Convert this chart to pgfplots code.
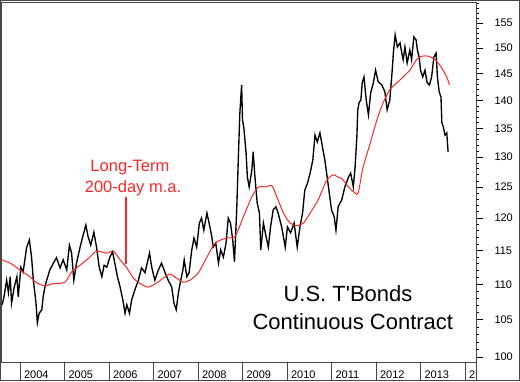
\documentclass[border=0pt]{standalone}
\usepackage{pgfplots}
\pgfplotsset{compat=1.18}
\usepackage{fontspec}
\setmainfont{Liberation Sans}
\definecolor{maRed}{RGB}{255,40,40}
\definecolor{frameGray}{RGB}{70,70,70}
\begin{document}
\begin{tikzpicture}[x=1pt,y=1pt]
\useasboundingbox (0,0) rectangle (520,381);
\begin{axis}[
  at={(1pt,19pt)}, anchor=south west,
  width=475pt, height=360pt, scale only axis,
  xmin=2003.573, xmax=2014.247,
  ymode=log, ymin=99.35, ymax=159.34,
  axis line style={frameGray, line width=0.8pt},
  xtick pos=bottom, ytick pos=right,
  tick align=outside,
  major tick length=7pt, minor tick length=3pt,
  tick style={black, line width=0.7pt},
  xtick style={/pgfplots/major tick length=19pt, frameGray, line width=0.8pt},
  xtick={2004,2005,2006,2007,2008,2009,2010,2011,2012,2013,2014},
  xticklabels={2004,2005,2006,2007,2008,2009,2010,2011,2012,2013,2},
  xticklabel style={anchor=west, xshift=0.5pt, yshift=-5.5pt},
  ytick={100,105,110,115,120,125,130,135,140,145,150,155},
  yticklabels={100,105,110,115,120,125,130,135,140,145,150,155},
  minor ytick={101,102,103,104,106,107,108,109,111,112,113,114,116,117,118,119,121,122,123,124,126,127,128,129,131,132,133,134,136,137,138,139,141,142,143,144,146,147,148,149,151,152,153,154,156,157,158,159},
  yticklabel style={anchor=west},
  yticklabel shift=8pt,
  ticklabel style={font=\fontsize{11}{13}\selectfont},
  /pgf/number format/assume math mode=true,
  clip=true,
]
% price series
\addplot[black, line width=1.35pt] coordinates {
(2003.60,107.1)(2003.64,108.2)(2003.70,110.6)(2003.74,108.8)(2003.78,111.1)(2003.81,107.3)(2003.87,109.6)(2003.93,111.1)(2003.96,108.2)
(2004.02,112.5)(2004.07,111.8)(2004.15,115.5)(2004.21,116.6)(2004.26,114.0)(2004.30,110.6)(2004.36,107.3)(2004.39,104.6)(2004.43,105.9)(2004.49,106.4)
(2004.52,108.2)(2004.56,109.6)(2004.60,110.6)(2004.67,112.1)(2004.75,113.1)(2004.82,113.9)(2004.90,112.4)(2004.97,113.6)
(2005.05,112.1)(2005.11,115.8)(2005.16,114.6)(2005.21,110.6)(2005.27,113.1)(2005.35,115.5)(2005.41,117.1)(2005.48,118.9)(2005.53,117.1)
(2005.59,115.8)(2005.66,117.8)(2005.72,115.5)(2005.78,112.5)(2005.84,111.1)(2005.89,112.8)(2005.95,112.5)
(2006.02,114.0)(2006.08,114.8)(2006.13,113.1)(2006.19,111.1)(2006.25,109.6)(2006.31,107.8)(2006.36,105.9)(2006.40,107.1)(2006.46,105.9)
(2006.51,107.8)(2006.58,109.2)(2006.66,110.6)(2006.73,112.4)(2006.81,111.7)(2006.91,114.6)(2006.96,112.5)
(2007.03,110.6)(2007.11,112.1)(2007.18,113.1)(2007.26,111.7)(2007.33,110.6)(2007.41,109.6)(2007.46,107.3)(2007.51,106.4)(2007.56,108.8)
(2007.60,110.2)(2007.66,112.1)(2007.69,113.6)(2007.75,111.1)(2007.80,111.7)(2007.86,115.1)(2007.91,116.9)(2007.97,115.5)
(2008.03,119.2)(2008.08,120.0)(2008.13,118.1)(2008.20,120.8)(2008.25,119.2)(2008.31,117.1)(2008.34,115.5)(2008.40,116.1)(2008.46,113.1)
(2008.51,115.1)(2008.57,114.0)(2008.63,116.1)(2008.68,120.0)(2008.73,119.2)(2008.78,116.6)(2008.82,113.3)(2008.87,121.3)(2008.91,130.7)
(2008.94,137.7)(2008.98,142.9)(2009.00,136.5)(2009.03,135.1)(2009.08,130.7)(2009.11,126.6)(2009.15,125.0)(2009.21,127.8)(2009.24,130.9)
(2009.28,126.6)(2009.33,122.4)(2009.38,120.8)(2009.41,115.1)(2009.47,119.2)(2009.53,117.1)(2009.58,115.5)(2009.63,118.6)(2009.69,121.3)
(2009.75,121.8)(2009.80,120.8)(2009.88,118.6)(2009.96,115.5)(2010.01,118.6)(2010.08,117.7)(2010.16,119.2)(2010.23,115.5)(2010.29,118.6)
(2010.35,120.8)(2010.40,124.5)(2010.46,125.6)(2010.52,127.3)(2010.58,129.5)(2010.63,133.8)(2010.68,132.6)(2010.74,134.2)(2010.80,131.6)
(2010.85,129.5)(2010.89,127.3)(2010.95,124.0)(2011.00,121.3)(2011.06,120.2)(2011.10,118.1)(2011.15,121.8)(2011.23,122.9)(2011.30,125.0)
(2011.38,126.6)(2011.43,127.3)(2011.49,125.0)(2011.53,128.3)(2011.57,133.5)(2011.59,138.3)(2011.62,139.6)(2011.66,140.1)(2011.69,143.3)
(2011.73,144.4)(2011.78,140.1)(2011.83,137.4)(2011.88,141.4)(2011.94,143.3)(2011.99,145.7)(2012.05,143.5)(2012.13,142.9)(2012.20,141.6)
(2012.25,138.3)(2012.31,140.1)(2012.36,145.2)(2012.39,149.0)(2012.43,152.6)(2012.48,150.2)(2012.54,151.0)(2012.58,149.0)(2012.61,147.7)
(2012.65,150.2)(2012.70,147.1)(2012.76,149.6)(2012.80,147.7)(2012.85,152.2)(2012.90,151.6)(2012.93,149.6)(2012.97,148.2)(2013.00,145.7)
(2013.05,144.4)(2013.10,145.7)(2013.15,143.3)(2013.20,142.9)(2013.25,144.4)(2013.30,148.2)(2013.35,149.0)(2013.38,144.4)(2013.42,141.6)
(2013.46,140.7)(2013.48,136.0)(2013.51,135.3)(2013.55,133.8)(2013.59,134.2)(2013.62,130.9)
};
% 200-day moving average
\addplot[maRed, line width=1pt, smooth, tension=0.4] coordinates {
(2003.59,113.6)(2003.78,113.1)(2004.00,112.1)(2004.22,111.1)(2004.38,110.2)(2004.56,109.8)(2004.75,110.1)(2004.97,110.2)
(2005.05,110.6)(2005.16,111.8)(2005.35,112.8)(2005.57,114.0)(2005.72,114.9)(2005.95,114.6)(2006.10,114.9)(2006.25,113.6)
(2006.40,112.4)(2006.55,110.9)(2006.70,110.1)(2006.88,109.6)(2007.07,110.2)(2007.22,110.9)(2007.37,111.5)(2007.52,110.9)
(2007.67,110.3)(2007.82,110.6)(2008.01,111.7)(2008.20,114.0)(2008.38,116.1)(2008.64,116.9)(2008.83,117.1)(2009.02,120.2)
(2009.21,123.4)(2009.36,125.0)(2009.51,125.0)(2009.66,125.2)(2009.77,123.4)(2009.92,120.8)(2010.07,119.2)(2010.22,118.8)
(2010.37,119.2)(2010.52,120.8)(2010.70,122.9)(2010.89,126.1)(2011.04,127.0)(2011.15,126.6)(2011.23,126.4)(2011.38,125.0)
(2011.53,124.0)(2011.60,124.0)(2011.71,128.3)(2011.87,132.4)(2012.02,136.5)(2012.16,139.6)(2012.31,142.0)(2012.47,143.3)
(2012.61,144.4)(2012.76,145.7)(2012.91,147.7)(2013.03,148.4)(2013.18,148.4)(2013.33,147.7)(2013.48,146.1)(2013.60,144.2)(2013.65,142.9)
};
% annotation pointer
\draw[color=maRed, line width=1.2pt] (axis cs:2006.38,123.4) -- (axis cs:2006.38,113.0);
\node[text=maRed, font=\fontsize{16.5}{18}\selectfont] at (axis cs:2006.47,128.3) {Long-Term};
\node[text=maRed, font=\fontsize{16.5}{18}\selectfont] at (axis cs:2006.54,124.8) {200-day m.a.};
\node[text=black, font=\fontsize{22}{24}\selectfont] at (axis cs:2011.37,108.6) {U.S. T\textquotesingle Bonds};
\node[text=black, font=\fontsize{22}{24}\selectfont] at (axis cs:2011.48,104.7) {Continuous Contract};
\end{axis}
\draw[frameGray, line width=0.8pt] (476.5,0) -- (476.5,20);
\draw[frameGray, line width=1pt] (0.5,0.5) rectangle (519.5,380.5);
\end{tikzpicture}
\end{document}
